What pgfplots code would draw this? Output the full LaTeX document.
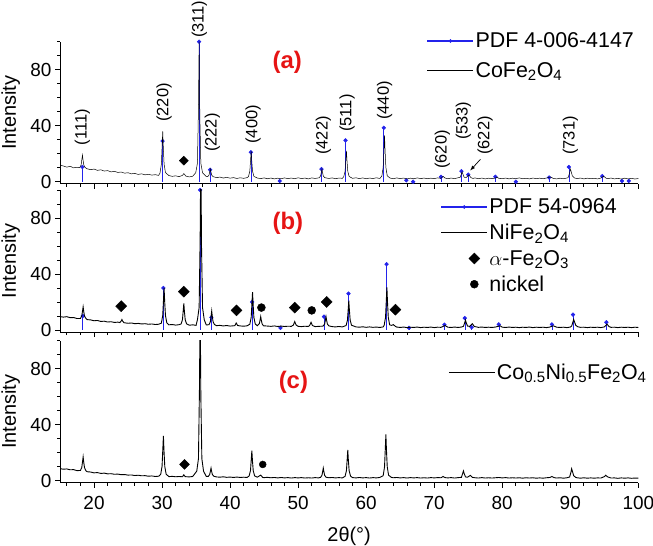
\documentclass[border=0pt]{standalone}
\usepackage{pgfplots}
\pgfplotsset{compat=1.18}
\usepackage{fontspec}
\setmainfont{Liberation Sans}
\definecolor{pdfblue}{RGB}{35,35,235}
\definecolor{lblred}{RGB}{230,20,20}

\tikzset{
  hkl/.style={rotate=90, font=\fontsize{16.5}{18}\selectfont},
  plab/.style={text=lblred, font=\bfseries\fontsize{24}{28}\selectfont},
}
\pgfplotsset{
  xrd/.style={
    scale only axis, width=578.3bp, height=142.1bp, anchor=north west,
    xmin=15, xmax=100, ymin=-1.5, ymax=100,
    axis x line*=bottom, axis y line*=left,
    axis line style={-, line width=0.9bp},
    xtick={20,30,...,100}, minor xtick={16,18,...,98},
    ytick={0,40,80}, minor ytick={10,20,30,50,60,70,90,100},
    tick align=outside, major tick length=5bp, minor tick length=3bp,
    tick style={black, line width=0.8bp},
    ticklabel style={font=\fontsize{19}{21}\selectfont},
    xticklabel style={yshift=-5bp},
    /pgf/number format/assume math mode=true,
    ylabel={Intensity},
    ylabel style={font=\fontsize{20}{22}\selectfont, at={(axis description cs:-0.085,0.5)}, anchor=center},
    clip mode=individual,
    legend style={draw=none, fill=none, anchor=north west,
      font=\fontsize{21.5}{24}\selectfont, inner sep=0pt,
      nodes={inner sep=1.5bp}, row sep=6bp},
    legend cell align=left,
  },
  curve/.style={black, line width=0.6bp, mark=none, forget plot},
  sticks/.style={pdfblue, ycomb, line width=0.6bp, mark=*, mark size=1.8bp, forget plot},
  diam/.style={only marks, mark=square*, mark size=#1, black, mark options={rotate=45}, forget plot},
  dot/.style={only marks, mark=*, mark size=#1, black, forget plot},
  pdfleg/.style={legend image code/.code={\draw[pdfblue,line width=1.2bp](0bp,0bp)--(46bp,0bp);\fill[pdfblue](23bp,0bp) circle (1.6bp);}},
  lineleg/.style={legend image code/.code={\draw[black,line width=#1](0bp,0bp)--(46bp,0bp);}},
}

\begin{document}
\begin{tikzpicture}[x=1bp,y=1bp]
\useasboundingbox (0,0) rectangle (653,546);

% ---------------- (a) CoFe2O4 ----------------
\begin{axis}[xrd, at={(60bp,504.3bp)}, xticklabels={},
  legend style={at={(0.634,1.075)}, row sep=10bp}]
\addplot[sticks] coordinates {
(18.29,10.5)(30.08,29)(35.44,100)(37.06,8.5)(43.06,21)(47.3,0.5)(53.43,9)(56.97,29.5)(62.59,38.5)(65.9,1)(66.9,0)(71.0,3.5)(74.0,7.5)(75.0,5)(79.0,3.5)(82.0,0)(86.9,3)(89.8,10.5)(94.7,4)(97.6,0.5)(98.6,0.5)
};
\addplot[curve, line width=0.5bp] coordinates {
(15,11.8)(15.5,11.2)(16,10.4)(16.5,11.0)(17,9.9)(17.5,10.3)
(17.9,10.0)(18.1,11.9)(18.22,16.2)(18.3,19)(18.38,15.7)(18.5,11.9)(18.7,10.1)
(19,9.2)(19.5,8.6)(20,9.0)(20.5,8.1)(21,8.5)(21.5,7.6)(22,7.9)(22.5,7.0)(23,7.4)(23.5,6.6)(24,6.9)(24.5,6.1)(25,6.4)(25.5,5.6)(26,5.9)(26.5,5.2)(27,5.6)(27.5,4.9)(28,5.3)(28.5,4.7)(29,5.0)(29.5,4.5)
(29.7,6.2)(29.9,12.5)(30.02,26.6)(30.1,36)(30.18,25.0)(30.3,12.5)(30.5,6.5)
(31,4.4)(31.5,3.8)(32,4.2)(32.5,3.6)(33,4.5)(33.2,5.8)(33.5,4.0)(34,3.4)(34.5,3.9)
(34.95,6.4)(35.2,13.2)(35.35,51.8)(35.45,100)(35.55,47)(35.7,13.2)(35.95,6.4)
(36.5,3.6)(36.7,3.6)(36.9,4.7)(37.02,7.3)(37.1,9)(37.18,7.0)(37.3,4.7)(37.5,3.6)
(38,2.9)(38.5,3.3)(39,2.6)(39.5,3.1)(40,2.5)(40.5,2.9)(41,2.3)(41.5,2.8)(42,2.4)(42.5,2.9)
(42.7,3.6)(42.9,7.5)(43.02,16.2)(43.1,22)(43.18,15.2)(43.3,7.5)(43.5,3.8)
(44,2.6)(44.5,2.2)(45,2.7)(45.5,2.1)(46,2.6)(46.5,2.0)(47,2.5)(47.5,2.1)(48,2.7)(48.5,2.2)(49,2.6)(49.5,2.1)(50,2.8)(50.5,2.2)(51,2.6)(51.5,2.0)(52,2.7)(52.5,2.3)
(53.1,2.8)(53.3,4.1)(53.42,7.0)(53.5,9)(53.58,6.7)(53.7,4.1)(53.9,2.9)
(54.5,2.3)(55,2.7)(55.5,2.1)(56,2.6)(56.5,2.4)
(56.7,3.5)(56.9,7.4)(57.02,16.2)(57.1,22)(57.18,15.2)(57.3,7.4)(57.5,3.7)
(58,2.4)(58.5,2.8)(59,2.2)(59.5,2.7)(60,2.1)(60.5,2.6)(61,2.2)(61.5,2.8)(62,2.3)
(62.3,3.9)(62.5,10.1)(62.62,23.8)(62.7,33)(62.78,22.3)(62.9,10.1)(63.1,4.2)
(63.5,2.6)(64,2.1)(64.5,2.7)(65,2.2)(65.5,2.6)(66,2.0)(66.5,2.5)(67,2.1)(67.5,2.7)(68,2.2)(68.5,2.6)(69,2.1)(69.5,2.5)(70,2.2)(70.5,2.7)(71,2.4)(71.3,3.8)(71.6,2.6)(72,2.1)(72.5,2.6)(73,2.2)(73.5,2.8)
(73.8,3.0)(74,5.5)(74.1,7)(74.2,5.6)(74.4,3.2)(74.7,3.0)(75.1,4.8)(75.4,2.9)(75.7,2.3)
(76,2.7)(76.5,2.1)(77,2.6)(77.5,2.0)(78,2.5)(78.5,2.2)(79,2.6)(79.2,3.3)(79.5,2.4)(80,2.1)(80.5,2.6)(81,2.0)(81.5,2.5)(82,2.2)(82.5,2.7)(83,2.1)(83.5,2.4)(84,2.0)(84.5,2.6)(85,2.2)(85.5,2.5)(86,2.1)(86.5,2.6)(87.1,3.4)(87.5,2.3)(88,2.0)(88.5,2.5)(89,2.1)(89.5,2.6)
(89.7,3.0)(89.9,6.2)(90,9)(90.1,7.8)(90.3,4.2)(90.6,2.7)
(91,2.2)(91.5,2.6)(92,2.0)(92.5,2.5)(93,2.1)(93.5,2.4)(94,2.0)(94.5,2.6)(94.9,3.9)(95.3,2.4)(95.5,2.2)(96,2.6)(96.5,2.0)(97,2.4)(97.5,1.9)(98,2.5)(98.5,2.0)(99,2.4)(99.5,1.9)(100,2.3)
};
\addplot[diam=3.2bp] coordinates {(33.2,15)};
\addlegendimage{pdfleg}
\addlegendentry{PDF 4-006-4147}
\addlegendimage{lineleg=0.5bp}
\addlegendentry{CoFe\textsubscript{2}O\textsubscript{4}}
\node[plab] at (axis cs:48.4,85) {(a)};
\node[hkl] at (axis cs:18.3,39) {(111)};
\node[hkl] at (axis cs:30.3,56.6) {(220)};
\node[hkl] at (axis cs:35.5,116) {(311)};
\node[hkl] at (axis cs:37.4,35) {(222)};
\node[hkl] at (axis cs:43.4,41) {(400)};
\node[hkl] at (axis cs:53.7,33) {(422)};
\node[hkl] at (axis cs:57.2,49) {(511)};
\node[hkl] at (axis cs:62.7,58) {(440)};
\node[hkl] at (axis cs:71.2,23) {(620)};
\node[hkl] at (axis cs:74.3,43.5) {(533)};
\node[hkl] at (axis cs:77.5,33) {(622)};
\node[hkl] at (axis cs:90.0,33) {(731)};
\draw[-latex, line width=0.7bp] (axis cs:76.8,16) -- (axis cs:75.3,8);
\end{axis}

% ---------------- (b) NiFe2O4 ----------------
\begin{axis}[xrd, at={(60bp,356bp)}, xticklabels={},
  legend style={at={(0.658,0.95)}}]
\addplot[sticks] coordinates {
(18.35,10)(30.2,30)(35.6,100)(37.25,9)(43.25,20)(47.4,1.5)(53.8,9.5)(57.4,26)(63.0,47)(66.3,1.5)(71.5,3.8)(74.5,8.5)(75.5,2)(79.5,4)(87.3,4)(90.4,11)(95.3,5.5)
};
\addplot[curve, line width=0.9bp] coordinates {
(15,9.6)(15.5,9.2)(16,9.5)(16.5,8.8)(17,8.9)(17.5,8.2)
(18,8.2)(18.2,10.0)(18.32,13.9)(18.4,16.5)(18.48,13.5)(18.6,10.0)(18.8,8.3)
(19,7.4)(19.5,7.2)(20,6.6)(20.5,6.8)(21,6.1)(21.5,6.3)(22,5.7)(22.5,5.9)(23,5.4)(23.5,5.6)
(23.8,5.3)(24,6.5)(24.1,7.5)(24.2,6.4)(24.4,5.2)
(25,4.8)(25.5,5.0)(26,4.5)(26.5,4.7)(27,4.3)(27.5,4.5)(28,4.1)(28.5,4.3)(29,3.9)(29.5,4.1)
(29.9,4.9)(30.1,10.4)(30.22,22.2)(30.3,30)(30.38,20.9)(30.5,10.4)(30.7,5.1)
(31,3.7)(31.5,3.9)(32,3.5)(32.5,3.8)
(32.8,4.3)(33,7.4)(33.12,14.4)(33.2,19)(33.28,13.6)(33.4,7.4)(33.6,4.4)
(34,3.4)(34.5,3.7)(35,3.3)
(35.2,7.3)(35.45,16)(35.6,66)(35.7,130)(35.8,60)(35.95,16)(36.2,7.3)
(36.5,3.6)
(36.9,3.8)(37.1,5.9)(37.22,10.4)(37.3,13.5)(37.38,9.9)(37.5,5.9)(37.7,3.9)
(38,3.1)(38.5,3.3)(39,2.9)(39.5,3.2)(40,2.8)(40.5,3.0)(40.7,3.1)(40.9,5)(41.1,3.2)(41.5,2.9)(42,2.7)(42.5,3.0)
(42.9,4.1)(43.1,8.9)(43.22,19.8)(43.3,27)(43.38,18.6)(43.5,8.9)(43.7,4.3)
(44,3.0)(44.3,4.5)(44.42,7.5)(44.5,9.5)(44.58,7.2)(44.7,4.5)(44.9,3.0)
(45.5,2.8)(46,2.6)(46.5,2.9)(47,2.5)(47.5,2.8)(48,2.5)(48.5,2.7)(49,2.6)(49.3,3.5)(49.5,6)(49.7,3.6)(50,2.6)(50.5,2.4)(51,2.7)(51.5,2.5)(51.7,3.3)(51.9,5.5)(52.1,3.2)(52.5,2.4)(53,2.6)(53.5,2.7)
(53.7,2.9)(53.9,4.3)(54.02,7.4)(54.1,9.5)(54.18,7.1)(54.3,4.3)(54.5,3.0)
(55,2.4)(55.5,2.2)(56,2.5)(56.5,2.2)
(57.05,3.2)(57.25,7.0)(57.37,15.4)(57.45,21)(57.53,14.5)(57.65,7.0)(57.85,3.4)
(58.5,2.2)(59,2.0)(59.5,2.3)(60,1.9)(60.5,2.2)(61,1.9)(61.5,2.1)(62,1.8)(62.5,2.2)
(62.65,3.4)(62.85,9.1)(62.97,22.0)(63.05,30.5)(63.13,20.5)(63.25,9.1)(63.45,3.7)
(63.7,3.3)(64,3.8)(64.3,2.6)(64.5,2.1)(65,1.8)(65.5,2.1)(66,1.7)(66.5,2.0)(67,1.8)(67.5,2.1)(68,1.7)(68.5,2.0)(69,1.8)(69.5,2.1)(70,1.7)(70.5,2.0)(71,1.9)(71.6,3.2)(72,2.0)(72.5,1.8)(73,2.1)(73.5,1.8)(74,2.1)
(74.3,2.6)(74.5,5.4)(74.6,7)(74.7,5.3)(74.9,2.8)(75.2,2.6)(75.6,4.5)(75.9,2.5)
(76.5,1.9)(77,2.1)(77.5,1.8)(78,2.0)(78.5,1.8)(79,2.1)(79.7,3.0)(80,2.0)(80.5,1.8)(81,2.1)(81.5,1.8)(82,2.0)(82.5,1.7)(83,2.0)(83.5,1.8)(84,2.1)(84.5,1.7)(85,2.0)(85.5,1.8)(86,2.0)(86.5,1.7)(87,2.1)(87.5,3.0)(88,2.0)(88.5,1.8)(89,2.0)(89.5,1.7)(90,2.1)
(90.2,2.8)(90.4,5.8)(90.5,7.5)(90.6,6.2)(90.8,3.4)(91.1,2.3)
(91.5,1.9)(92,2.0)(92.5,1.7)(93,2.0)(93.5,1.8)(94,2.0)(94.5,1.7)(95,2.2)(95.4,4.2)(95.7,2.4)(96,1.9)(96.5,2.0)(97,1.7)(97.5,2.0)(98,1.8)(98.5,2.0)(99,1.7)(99.5,2.0)(100,1.8)
};
\addplot[diam=3.9bp] coordinates {(24.0,17)(33.2,27.4)(40.95,14)(49.5,16)(54.2,20)(64.3,14.5)};
\addplot[dot=4bp] coordinates {(44.6,16)(52.0,14)};
\addlegendimage{pdfleg}
\addlegendentry{PDF 54-0964}
\addlegendimage{lineleg=1.2bp}
\addlegendentry{NiFe\textsubscript{2}O\textsubscript{4}}
\addlegendimage{legend image code/.code={\fill[black] (33bp,5.5bp) -- (38.5bp,0bp) -- (33bp,-5.5bp) -- (27.5bp,0bp) -- cycle;}}
\addlegendentry{$\alpha$-Fe\textsubscript{2}O\textsubscript{3}}
\addlegendimage{legend image code/.code={\fill[black] (33bp,0bp) circle (4bp);}}
\addlegendentry{nickel}
\node[plab] at (axis cs:48.5,76) {(b)};
\end{axis}

% ---------------- (c) Co0.5Ni0.5Fe2O4 ----------------
\begin{axis}[xrd, at={(60bp,205.3bp)},
  xlabel={2θ(°)},
  xlabel style={font=\fontsize{20}{22}\selectfont, at={(axis description cs:0.5,-0.38)}, anchor=center},
  legend style={at={(0.671,0.85)}}]
\addplot[curve, line width=0.9bp] coordinates {
(15,8.6)(15.5,8.2)(16,8.4)(16.5,7.8)(17,7.9)(17.5,7.2)
(18,7.3)(18.2,9.4)(18.32,13.9)(18.4,17)(18.48,13.4)(18.6,9.4)(18.8,7.1)
(19,6.4)(19.5,6.2)(20,5.6)(20.5,5.8)(21,5.2)(21.5,5.4)(22,4.9)(22.5,5.0)(23,4.6)(23.5,4.7)(24,4.3)(24.5,4.4)(25,4.0)(25.5,4.1)(26,3.7)(26.5,3.9)(27,3.5)(27.5,3.6)(28,3.2)(28.5,3.4)(29,3.0)(29.5,3.2)
(29.8,4.5)(30,10.2)(30.12,23.3)(30.2,32)(30.28,21.9)(30.4,10.2)(30.6,4.7)
(31,2.9)(31.5,3.1)(32,2.8)(32.5,3.0)(33,2.8)(33.2,4.2)(33.4,2.9)(34,2.7)(34.5,3.0)
(35.1,6.8)(35.35,15.7)(35.5,66)(35.6,130)(35.7,61)(35.85,15.7)(36.1,6.8)
(36.5,3.0)(36.8,3.1)(37,4.4)(37.12,7.1)(37.2,9)(37.28,6.8)(37.4,4.4)(37.6,3.2)
(38,2.7)(38.5,2.5)(39,2.8)(39.5,2.4)(40,2.6)(40.5,2.3)(41,2.6)(41.5,2.3)(42,2.5)(42.5,2.3)
(42.8,3.4)(43,7.2)(43.12,15.8)(43.2,21.5)(43.28,14.8)(43.4,7.2)(43.6,3.5)
(44,2.5)(44.5,4.0)(44.8,2.3)(45,2.2)
(45.5,2.4)(46,2.1)(46.5,2.3)(47,2.0)(47.5,2.3)(48,2.0)(48.5,2.2)(49,1.9)(49.5,2.2)(50,2.0)(50.5,2.2)(51,1.9)(51.5,2.1)(52,1.9)(52.5,2.2)(53,2.0)
(53.3,2.4)(53.5,3.8)(53.62,6.9)(53.7,9)(53.78,6.6)(53.9,3.8)(54.1,2.5)
(54.5,2.1)(55,2.3)(55.5,2.0)(56,2.2)(56.5,2.0)
(56.9,3.1)(57.1,7.1)(57.22,16.0)(57.3,22)(57.38,15.0)(57.5,7.1)(57.7,3.3)
(58,2.2)(58.5,2.0)(59,2.3)(59.5,2.0)(60,2.2)(60.5,1.9)(61,2.2)(61.5,2.0)(62,2.3)
(62.5,3.6)(62.7,9.8)(62.82,23.7)(62.9,33)(62.98,22.2)(63.1,9.8)(63.3,3.9)
(63.7,2.4)(64,2.1)(64.5,2.3)(65,2.0)(65.5,2.2)(66,1.9)(66.5,2.2)(67,2.0)(67.5,2.2)(68,1.9)(68.5,2.1)(69,1.9)(69.5,2.2)(70,2.0)(70.5,2.2)(71,2.1)(71.3,3.0)(71.6,2.2)(72,2.0)(72.5,2.2)(73,1.9)(73.5,2.2)
(74,2.4)(74.2,5.4)(74.3,7)(74.4,5.2)(74.6,2.7)(74.9,2.5)(75.3,3.8)(75.6,2.4)
(76,2.1)(76.5,1.9)(77,2.2)(77.5,1.9)(78,2.1)(78.5,1.9)(79,2.1)(79.5,2.3)(80,2.0)(80.5,2.2)(81,1.9)(81.5,2.1)(82,1.9)(82.5,2.1)(83,1.8)(83.5,2.1)(84,1.9)(84.5,2.1)(85,1.8)(85.5,2.0)(86,1.8)(86.5,2.1)(87,2.3)(87.3,3.0)(87.6,2.2)(88,1.9)(88.5,2.1)(89,1.8)(89.5,2.1)
(89.9,2.6)(90.1,6.0)(90.2,8.5)(90.3,7.0)(90.5,3.6)(90.8,2.3)
(91,2.1)(91.5,1.8)(92,2.1)(92.5,1.8)(93,2.0)(93.5,1.8)(94,2.0)(94.5,1.9)(95,2.9)(95.2,3.9)(95.5,2.7)(96,1.9)(96.5,2.0)(97,1.7)(97.5,2.0)(98,1.8)(98.5,2.0)(99,1.7)(99.5,1.9)(100,1.8)
};
\addplot[diam=3.5bp] coordinates {(33.3,11.6)};
\addplot[dot=3.5bp] coordinates {(44.8,11.6)};
\addlegendimage{lineleg=1.2bp}
\addlegendentry{Co\textsubscript{0.5}Ni\textsubscript{0.5}Fe\textsubscript{2}O\textsubscript{4}}
\node[plab] at (axis cs:49.3,70) {(c)};
\end{axis}
\end{tikzpicture}
\end{document}
